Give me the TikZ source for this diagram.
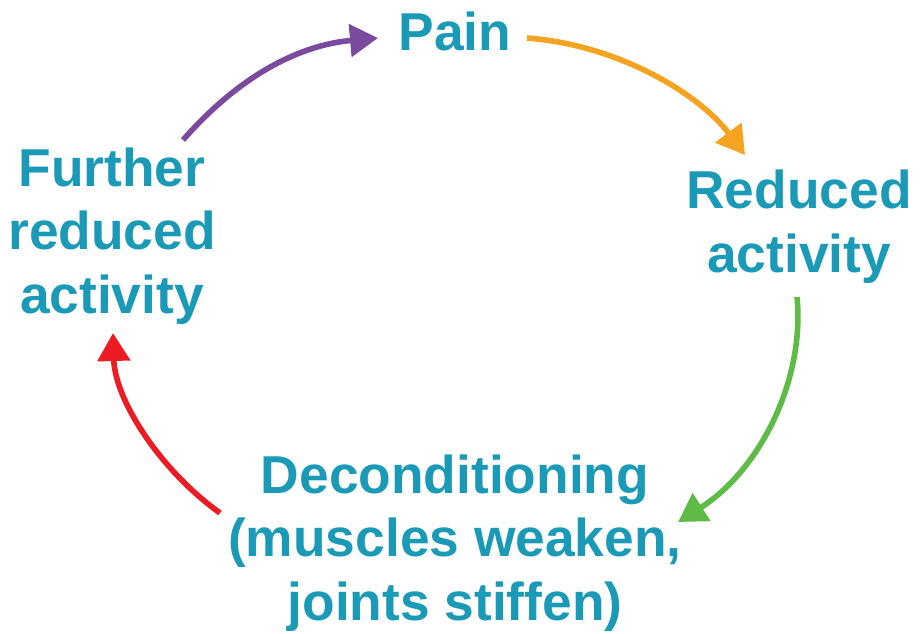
\documentclass[tikz,border=0pt]{standalone}
\usepackage{fontspec}
\setmainfont{Liberation Sans}
\usetikzlibrary{arrows.meta,calc}
\definecolor{txtc}{HTML}{1B9AB8}
\definecolor{cpurple}{HTML}{7B4A9E}
\definecolor{corange}{HTML}{F5A320}
\definecolor{cgreen}{HTML}{5DBB46}
\definecolor{cred}{HTML}{ED1C24}
\begin{document}
\begin{tikzpicture}[x=0.75pt,y=-0.75pt,
  lbl/.style={text=txtc,font=\fontsize{40}{47.5}\selectfont\bfseries,align=center,inner sep=0pt,anchor=base},
  cyc/.style={line width=4.2pt,-{Triangle[length=21pt,width=24pt]}}]
\useasboundingbox (0,0) rectangle (920,633);
\node[lbl] (pain) at (455,50) {Pain};
\node[lbl] (reduced) at (799,272) {Reduced\\activity};
\node[lbl] (decond) at (455,620) {Deconditioning\\(muscles weaken,\\joints stiffen)};
\node[lbl] (further) at (112,313) {Further\\reduced\\activity};
\coordinate (p1) at (183,140);
\coordinate (p2) at (378,38);
\coordinate (o1) at (527,38);
\coordinate (o2) at (745,155);
\coordinate (g1) at (797,297);
\coordinate (g2) at (678,522);
\coordinate (r1) at (220,513);
\coordinate (r2) at (113,333);
\draw[cyc,cpurple] (p1) .. controls (240,75) and (300,45) .. (p2);
\draw[cyc,corange] (o1) .. controls (620,45) and (700,95) .. (o2);
\draw[cyc,cgreen] (g1) .. controls (805,380) and (760,470) .. (g2);
\draw[cyc,cred] (r1) .. controls (160,470) and (115,400) .. (r2);
\end{tikzpicture}
\end{document}
